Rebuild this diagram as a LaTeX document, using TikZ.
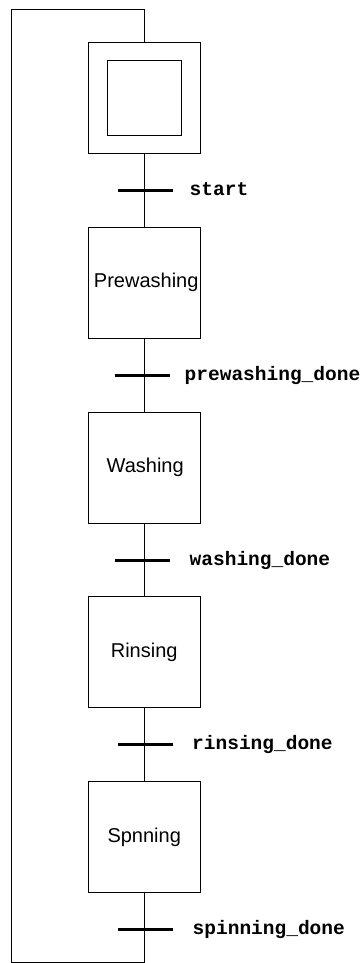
\documentclass[tikz,border=0pt]{standalone}
\usepackage{fontspec}
\setmainfont{Liberation Sans}
\newfontfamily\codefont{Liberation Mono}
\begin{document}
\begin{tikzpicture}[x=1pt,y=-1pt]
\tikzset{
 stepbox/.style={draw, line width=0.8pt, minimum width=111.7pt, minimum height=111pt, inner sep=0pt, font=\fontsize{20}{22}\selectfont},
 initinner/.style={draw, line width=0.8pt, minimum width=74.5pt, minimum height=74.3pt, inner sep=0pt},
 trbar/.style={fill=black, minimum width=55pt, minimum height=3pt, inner sep=0pt},
 trlabel/.style={anchor=base west, inner sep=0pt, font=\codefont\bfseries\fontsize{19.5}{22}\selectfont},
 link/.style={line width=0.8pt}
}
\useasboundingbox (0,0) rectangle (361,963);
% steps
\node[stepbox] (s0) at (144.2,97.8) {};
\node[initinner] (s0i) at (144.2,97.8) {};
\node[stepbox, text width=111.7pt, align=center] (s1) at (144.2,282.6) {\hspace*{4pt}Prewashing};
\node[stepbox] (s2) at (144.2,467.4) {\hspace*{2pt}Washing};
\node[stepbox] (s3) at (144.2,652.2) {Rinsing};
\node[stepbox] (s4) at (144.2,837.0) {Spnning};
% transitions
\node[trbar] (t0) at (145.7,190) {};
\node[trbar] (t1) at (142.2,375) {};
\node[trbar] (t2) at (142.2,560) {};
\node[trbar] (t3) at (145.7,744.3) {};
\node[trbar] (t4) at (145.8,929.3) {};
\node[trlabel] (l0) at (189.5,195) {start};
\node[trlabel] (l1) at (184.5,380) {prewashing\_done};
\node[trlabel] (l2) at (189.5,565) {washing\_done};
\node[trlabel] (l3) at (192,749.3) {rinsing\_done};
\node[trlabel] (l4) at (192.5,934.3) {spinning\_done};
% links
\draw[link] (s0.south) -- (s1.north);
\draw[link] (s1.south) -- (s2.north);
\draw[link] (s2.south) -- (s3.north);
\draw[link] (s3.south) -- (s4.north);
\coordinate (lb) at (144.2,962);
\coordinate (lbl) at (11,962);
\coordinate (ltl) at (11,9);
\coordinate (ltr) at (144.2,9);
\draw[link] (s4.south) -- (lb) -- (lbl) -- (ltl) -- (ltr) -- (s0.north);
\end{tikzpicture}
\end{document}
